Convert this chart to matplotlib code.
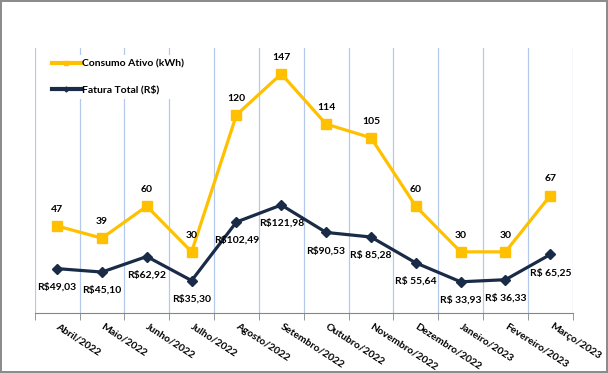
import matplotlib
matplotlib.use("Agg")
import matplotlib.pyplot as plt
from matplotlib.lines import Line2D

plt.rcParams["font.family"] = ["Lato", "DejaVu Sans"]

meses = ["Abril/2022", "Maio/2022", "Junho/2022", "Julho/2022", "Agosto/2022",
         "Setembro/2022", "Outubro/2022", "Novembro/2022", "Dezembro/2022",
         "Janeiro/2023", "Fevereiro/2023", "Março/2023"]
consumo = [47, 39, 60, 30, 120, 147, 114, 105, 60, 30, 30, 67]
fatura = [49.03, 45.10, 62.92, 35.30, 102.49, 121.98, 90.53, 85.28, 55.64, 33.93, 36.33, 65.25]
fatura_txt = ["R$49,03", "R$45,10", "R$62,92", "R$35,30", "R$102,49", "R$121,98",
              "R$90,53", "R$ 85,28", "R$ 55,64", "R$ 33,93", "R$ 36,33", "R$ 65,25"]

AMARELO, AZUL, GRADE = "#FFC000", "#1A2B48", "#B4C8EA"
FS = 7.5

fig = plt.figure(figsize=(6.08, 3.73), dpi=100)
fig.patch.set_edgecolor("#8C8C8C"); fig.patch.set_linewidth(1.5)
ax = fig.add_axes([34.7 / 608, 1 - 312.7 / 373, 538 / 608, 264.7 / 373])
ax2 = ax.twinx()
x = list(range(len(meses)))

ax.plot(x, consumo, color=AMARELO, lw=2.3, marker="s", ms=7.5, zorder=3)
ax2.plot(x, fatura, color=AZUL, lw=2.3, marker="D", ms=5.5, zorder=3)
for xi, v in zip(x, consumo):
    ax.annotate(str(v), (xi, v), xytext=(0, 12), textcoords="offset points",
                ha="center", va="center", fontsize=FS, fontweight="bold")
for xi, v, t in zip(x, fatura, fatura_txt):
    ax2.annotate(t, (xi, v), xytext=(0, -13), textcoords="offset points",
                 ha="center", va="center", fontsize=FS, fontweight="bold")

ax.set_xlim(-0.5, len(meses) - 0.5)
ax.set_ylim(-10, 164)
ax2.set_ylim(-1.5, 302)
ax.set_xticks(x)
ax.set_xticklabels(meses, rotation=-33, rotation_mode="anchor", ha="left", va="center",
                   fontsize=FS, fontweight="bold")
ax.tick_params(axis="x", which="major", length=0, pad=9)
ax.set_xticks([i - 0.5 for i in range(len(meses) + 1)], minor=True)
ax.tick_params(axis="x", which="minor", length=5, color="#868686", direction="out")
ax.grid(axis="x", which="minor", color=GRADE, lw=0.9)
ax.set_yticks([]); ax2.set_yticks([])
for a in (ax, ax2):
    for s in ("top", "right", "left"):
        a.spines[s].set_visible(False)
ax.spines["bottom"].set_color("#868686")
ax2.spines["bottom"].set_visible(False)

handles = [Line2D([], [], color=AMARELO, lw=3, marker="s", ms=3),
           Line2D([], [], color=AZUL, lw=3, marker="D", ms=2.5)]
leg = ax2.legend(handles, ["Consumo Ativo (kWh)", "Fatura Total (R$)"], loc="upper left",
                 bbox_to_anchor=(0.014, 0.992), frameon=True, fancybox=False,
                 facecolor="white", edgecolor="none", framealpha=1,
                 handlelength=2.8, handletextpad=0.1, labelspacing=1.6,
                 prop={"size": FS, "weight": "bold"})

fig.savefig("out.png", dpi=100, edgecolor=fig.get_edgecolor())
